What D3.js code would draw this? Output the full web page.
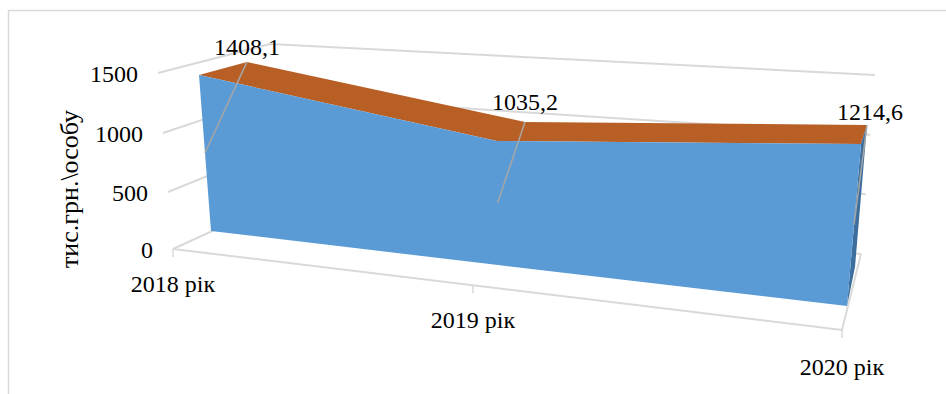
<!DOCTYPE html>
<html>
<head>
<meta charset="utf-8">
<title>тис.грн.\особу</title>
<script src="https://cdn.jsdelivr.net/npm/d3@7"></script>
<style>
  html, body { margin: 0; padding: 0; background: #ffffff; }
  svg { display: block; }
  text { font-family: "Liberation Serif", serif; fill: #000000; }
</style>
</head>
<body>
<div id="canvas"></div>
<script>
"use strict"

// DATA

let years = ["2018 рік", "2019 рік", "2020 рік"];
let values = [1408.1, 1035.2, 1214.6];
let labels = ["1408,1", "1035,2", "1214,6"];
let valueTicks = [0, 500, 1000, 1500];
let yTitle = "тис.грн.\\особу";

// Canvas

let svgWidth = 946;
let svgHeight = 394;

let svg = d3.select("#canvas")
    .append("svg")
    .attr("width", svgWidth)
    .attr("height", svgHeight);

// SCALES - the 3D box is described by planes, each plane has a scale for
// the foot of every category and one for the 1500 level above it

let maxValue = valueTicks[valueTicks.length - 1];
let cats = [0, 1, 2];

function makePlane(domain, baseX, baseY, topX, topY) {
    return {
        baseX: d3.scaleLinear().domain(domain).range(baseX),
        baseY: d3.scaleLinear().domain(domain).range(baseY),
        topX: d3.scaleLinear().domain(domain).range(topX),
        topY: d3.scaleLinear().domain(domain).range(topY)
    };
}

// front and back faces of the extruded area
let frontPlane = makePlane(cats, [211, 498, 847], [231, 265, 306], [198.2, 496.6, 864.3], [64.8, 85.3, 106]);
let backPlane = makePlane(cats, [254, 525, 855], [214, 237, 267], [246.5, 525, 869.8], [52, 70.4, 91.6]);
// back wall of the chart
let wallPlane = makePlane([0, 2], [280, 861], [200, 254], [270, 875], [44, 75]);

function project(plane, cat, value) {
    let x = d3.scaleLinear().domain([0, maxValue]).range([plane.baseX(cat), plane.topX(cat)]);
    let y = d3.scaleLinear().domain([0, maxValue]).range([plane.baseY(cat), plane.topY(cat)]);
    return [x(value), y(value)];
}

// front edge of the value axis, and the category axis along the floor
let axisX = d3.scaleLinear().domain(valueTicks).range([173, 168, 163, 158]);
let axisY = d3.scaleLinear().domain(valueTicks).range([249, 192, 133, 73]);
let floorX = d3.scaleLinear().domain(cats).range([173, 473, 842]);
let floorY = d3.scaleLinear().domain(cats).range([249, 285, 330]);

let gridColor = "#d9d9d9";
let line = d3.line();

// CHART BORDER

svg.append("path")
    .attr("d", line([[8.5, svgHeight], [8.5, 10.5], [svgWidth, 10.5]]))
    .attr("fill", "none")
    .attr("stroke", gridColor)
    .attr("stroke-width", 1.5);

// GRIDLINES - side wall then back wall

svg.selectAll(".grid")
    .data(valueTicks)
    .join("path")
    .attr("class", "grid")
    .attr("fill", "none")
    .attr("stroke", gridColor)
    .attr("stroke-width", 2)
    .attr("d", function (value) {
        return line([
            [axisX(value), axisY(value)],
            project(wallPlane, 0, value),
            project(wallPlane, 2, value)
        ]);
    });

// FLOOR EDGES AND TICKS

svg.append("path")
    .attr("fill", "none")
    .attr("stroke", gridColor)
    .attr("stroke-width", 2)
    .attr("d", line([
        [floorX(0), floorY(0)],
        [floorX(2), floorY(2)],
        project(wallPlane, 2, 0)
    ]));

svg.selectAll(".tick")
    .data(cats)
    .join("line")
    .attr("class", "tick")
    .attr("x1", function (cat) { return floorX(cat); })
    .attr("y1", function (cat) { return floorY(cat); })
    .attr("x2", function (cat) { return floorX(cat); })
    .attr("y2", function (cat) { return floorY(cat) + 8; })
    .attr("stroke", gridColor)
    .attr("stroke-width", 1.5);

// AREA - top strip, right side, front face

let frontTop = cats.map(function (cat) { return project(frontPlane, cat, values[cat]); });
let backTop = cats.map(function (cat) { return project(backPlane, cat, values[cat]); });

svg.append("path")
    .attr("d", line(frontTop.concat(backTop.slice().reverse())) + "Z")
    .attr("fill", "#b85f26");

svg.append("path")
    .attr("d", line([
        project(frontPlane, 2, 0),
        project(frontPlane, 2, values[2]),
        project(backPlane, 2, values[2]),
        project(backPlane, 2, 0)
    ]) + "Z")
    .attr("fill", "#3c6e9e");

svg.append("path")
    .attr("d", line([project(frontPlane, 0, 0)].concat(frontTop, [project(frontPlane, 2, 0), project(frontPlane, 1, 0)])) + "Z")
    .attr("fill", "#5b9bd5");

// LEADER LINES - from half height of the face to the label

svg.selectAll(".leader")
    .data(cats)
    .join("path")
    .attr("class", "leader")
    .attr("fill", "none")
    .attr("stroke", "#a6a6a6")
    .attr("stroke-width", 1.5)
    .attr("d", function (cat) {
        return line([project(frontPlane, cat, values[cat] / 2), project(backPlane, cat, values[cat])]);
    });

// VALUE LABELS

let labelOffsets = [[0, -7], [0, -12], [3, -5]]; // moved by hand so they sit clear of the strip

svg.selectAll(".value-label")
    .data(cats)
    .join("text")
    .attr("class", "value-label")
    .attr("x", function (cat) { return backTop[cat][0] + labelOffsets[cat][0]; })
    .attr("y", function (cat) { return backTop[cat][1] + labelOffsets[cat][1]; })
    .attr("text-anchor", "middle")
    .style("font-size", "24px")
    .text(function (cat) { return labels[cat]; });

// AXIS LABELS

svg.selectAll(".y-label")
    .data(valueTicks)
    .join("text")
    .attr("class", "y-label")
    .attr("x", function (value) { return axisX(value) - 20; })
    .attr("y", function (value) { return axisY(value) + 9; })
    .attr("text-anchor", "end")
    .style("font-size", "24px")
    .text(function (value) { return value; });

let yearDrop = [43, 43, 45];

svg.selectAll(".x-label")
    .data(cats)
    .join("text")
    .attr("class", "x-label")
    .attr("x", function (cat) { return floorX(cat); })
    .attr("y", function (cat) { return floorY(cat) + yearDrop[cat]; })
    .attr("text-anchor", "middle")
    .style("font-size", "24px")
    .text(function (cat) { return years[cat]; });

svg.append("text")
    .attr("transform", "translate(78,189) rotate(-90)")
    .attr("text-anchor", "middle")
    .style("font-size", "26px")
    .text(yTitle);
</script>
</body>
</html>
